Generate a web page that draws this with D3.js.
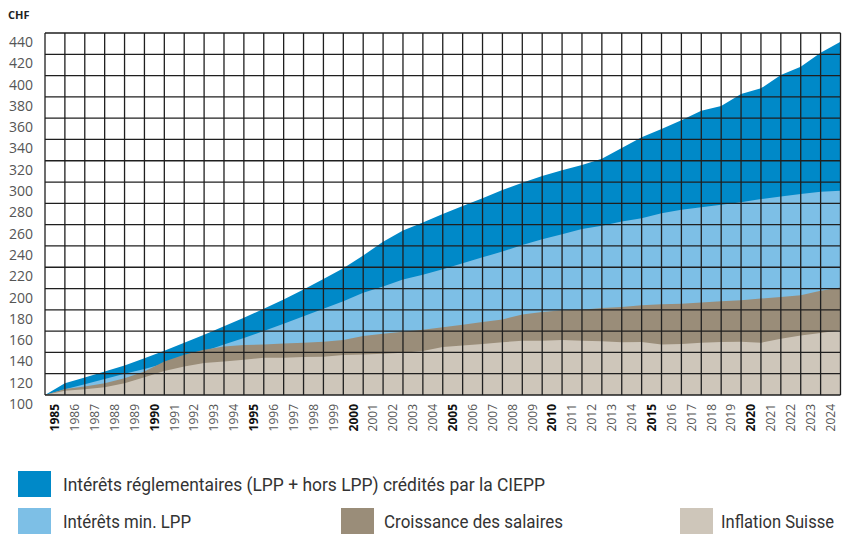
<!DOCTYPE html>
<html>
<head>
<meta charset="utf-8">
<script src="https://cdn.jsdelivr.net/npm/d3@7"></script>
<style>
  body { margin: 0; background: #fff; }
  svg { display: block; }
</style>
</head>
<body>
<div id="chart"></div>
<script>
// years 1985..2024, index 0 = start value 100, index i = end of year 1984+i
const years = d3.range(1985, 2025);
const yTicks = d3.range(100, 441, 20);

const ciepp = [100, 111, 116.5, 122, 127.7, 134.5, 141.5, 149, 156.5, 164.5, 172.5,
  181, 189.7, 199, 209, 219, 231, 244, 254.5, 262, 270,
  277.5, 284.7, 292.5, 299.4, 305.6, 311, 316, 322, 332, 342,
  349.8, 358, 367, 371.4, 382.6, 388, 400.5, 408.3, 421.5, 431.7];
const minLPP = [100, 105.5, 110, 115, 120, 124.5, 129.5, 135, 141, 147.5, 153.5,
  160, 167, 174, 181, 188, 196, 202, 208.4, 213, 218,
  223.7, 229.3, 234.7, 241, 246.4, 251, 255.8, 259, 263, 266,
  270.8, 273.9, 276.4, 278.6, 281, 284, 286.5, 288.7, 290.9, 291.8];
const salaires = [100, 105.7, 108, 111, 115.7, 122, 131.4, 137.7, 142.5, 145.6, 147,
  147.5, 148.4, 149, 150, 151.6, 155.3, 157.5, 159.4, 161.3, 163.7,
  166, 168.5, 171, 175.7, 178, 179.5, 180, 181.7, 182.6, 184.3,
  185.2, 185.8, 186.8, 188, 189, 190.6, 192.1, 193.7, 197.8, 201];
const inflation = [100, 104, 105.3, 107.2, 111, 116.7, 122.6, 126.7, 130, 131.4, 133,
  135, 135, 135.6, 136, 137.5, 138, 138.8, 139.7, 141.3, 145,
  146.4, 148, 149.5, 151, 151, 151.7, 151, 150.5, 149.5, 149.7,
  147.5, 148, 149, 149.7, 150, 149, 152.8, 156, 158.2, 160.7];

const series = [
  {name: "Intérêts réglementaires (LPP + hors LPP) crédités par la CIEPP", values: ciepp, color: "#0089c8"},
  {name: "Intérêts min. LPP", values: minLPP, color: "#7dbfe6"},
  {name: "Croissance des salaires", values: salaires, color: "#9a8d79"},
  {name: "Inflation Suisse", values: inflation, color: "#cec6ba"}
];

const W = 843, H = 534;
const plot = {left: 45, right: 840.5, top: 33, bottom: 395};

const svg = d3.select("#chart").append("svg")
  .attr("width", W).attr("height", H);

const x = d3.scaleLinear().domain([0, years.length]).range([plot.left, plot.right]);
const xBand = d3.scaleBand().domain(years).range([plot.left, plot.right]).padding(0);
const y = d3.scaleLinear().domain([100, 440]).range([plot.bottom, plot.top]);

// areas, drawn one over the other (not stacked)
const area = d3.area()
  .x((d, i) => x(i))
  .y0(y(100))
  .y1(d => y(d));

svg.selectAll("path.area")
  .data(series)
  .enter().append("path")
  .attr("class", "area")
  .attr("d", d => area(d.values))
  .attr("fill", d => d.color);

// grid on top
const grid = svg.append("g").attr("stroke", "#1f1f1f").attr("stroke-width", 1.3);
grid.selectAll("line.h")
  .data(yTicks)
  .enter().append("line")
  .attr("class", "h")
  .attr("x1", plot.left).attr("x2", plot.right)
  .attr("y1", d => y(d)).attr("y2", d => y(d));
grid.selectAll("line.v")
  .data(d3.range(0, years.length + 1))
  .enter().append("line")
  .attr("class", "v")
  .attr("y1", plot.top).attr("y2", plot.bottom)
  .attr("x1", d => x(d)).attr("x2", d => x(d));

// y axis
const yAxis = svg.append("g")
  .attr("transform", "translate(" + (plot.left - 12) + ",0)")
  .call(d3.axisLeft(y).tickValues(yTicks).tickSize(0).tickPadding(0));
yAxis.select(".domain").remove();
yAxis.selectAll("text")
  .attr("dy", "13.5")
  .attr("fill", "#555")
  .style("font-family", "'Open Sans', 'Noto Sans', sans-serif")
  .style("font-size", "14px");

svg.append("text")
  .attr("x", 8).attr("y", 19)
  .text("CHF")
  .attr("fill", "#222")
  .style("font-family", "'Open Sans', 'Noto Sans', sans-serif")
  .style("font-weight", "bold")
  .style("font-size", "11px");

// x axis
const xAxis = svg.append("g")
  .attr("transform", "translate(0," + plot.bottom + ")")
  .call(d3.axisBottom(xBand).tickSize(0));
xAxis.select(".domain").remove();
xAxis.selectAll("text")
  .attr("transform", "rotate(-90)")
  .attr("x", -9)
  .attr("y", 0)
  .attr("dy", "0.36em")
  .attr("text-anchor", "end")
  .attr("fill", d => d % 5 === 0 ? "#111" : "#555")
  .style("font-weight", d => d % 5 === 0 ? "bold" : "normal")
  .style("font-family", "'Open Sans', 'Noto Sans', sans-serif")
  .style("font-size", "12px");

// legend
const legendPos = [
  {sx: 18, sy: 471, tx: 63, ty: 491, tw: 482},
  {sx: 18, sy: 508, tx: 63, ty: 528, tw: 128},
  {sx: 341, sy: 508, tx: 384, ty: 528, tw: 179},
  {sx: 680, sy: 508, tx: 721, ty: 528, tw: 113}
];
const legend = svg.selectAll("g.legend")
  .data(series)
  .enter().append("g")
  .attr("class", "legend");
legend.append("rect")
  .attr("x", (d, i) => legendPos[i].sx)
  .attr("y", (d, i) => legendPos[i].sy)
  .attr("width", 33).attr("height", 26)
  .attr("fill", d => d.color);
legend.append("text")
  .attr("x", (d, i) => legendPos[i].tx)
  .attr("y", (d, i) => legendPos[i].ty)
  .attr("textLength", (d, i) => legendPos[i].tw)
  .attr("lengthAdjust", "spacingAndGlyphs")
  .attr("fill", "#333")
  .style("font-family", "'Liberation Sans Narrow', Roboto, 'Noto Sans', sans-serif")
  .style("font-size", "18px")
  .text(d => d.name);
</script>
</body>
</html>
